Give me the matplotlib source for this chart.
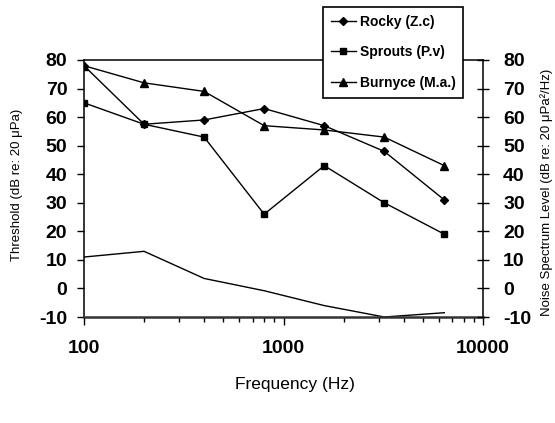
import matplotlib
matplotlib.use('Agg')
import matplotlib.pyplot as plt
from matplotlib.ticker import FixedLocator, NullFormatter, FixedFormatter

# ---- data ----
freq = [100, 200, 400, 800, 1600, 3200, 6400]
rocky = [78, 57.5, 59, 63, 57, 48, 31]
sprouts = [65, 57.5, 53, 26, 43, 30, 19]
burnyce = [78, 72, 69, 57, 55.5, 53, 43]
noise = [11, 13, 3.5, -0.8, -6, -10, -8.5]
series_labels = ['Rocky (Z.c)', 'Sprouts (P.v)', 'Burnyce (M.a.)']
yticks = [-10, 0, 10, 20, 30, 40, 50, 60, 70, 80]
xticks = [100, 1000, 10000]
xtick_labels = ['100', '1000', '10000']
minor_x = [200, 300, 400, 500, 600, 700, 800, 900,
           2000, 3000, 4000, 5000, 6000, 7000, 8000, 9000]

plt.rcParams['font.family'] = ['Liberation Sans', 'DejaVu Sans']
plt.rcParams['axes.unicode_minus'] = False

W, H = 555, 423
fig = plt.figure(figsize=(W / 100, H / 100), dpi=100)
L, R, T, B = 84, 483, 60, 317
ax = fig.add_axes([L / W, 1 - B / H, (R - L) / W, (B - T) / H])

ax.set_xscale('log')
ax.set_xlim(100, 10000)
ax.set_ylim(-10, 80)

lw = 1.0
ax.plot(freq, rocky, color='black', lw=lw, marker='D', ms=3.8, label=series_labels[0])
ax.plot(freq, sprouts, color='black', lw=lw, marker='s', ms=5, label=series_labels[1])
ax.plot(freq, burnyce, color='black', lw=lw, marker='^', ms=5.2, label=series_labels[2])
ax.plot(freq, noise, color='black', lw=lw)

# x axis ticks
ax.xaxis.set_major_locator(FixedLocator(xticks))
ax.xaxis.set_major_formatter(FixedFormatter(xtick_labels))
ax.xaxis.set_minor_locator(FixedLocator(minor_x))
ax.xaxis.set_minor_formatter(NullFormatter())
ax.tick_params(axis='x', which='major', direction='out', length=5.5, width=1,
               pad=11, labelsize=14)
ax.tick_params(axis='x', which='minor', direction='out', length=3.5, width=1)
for lab in ax.get_xticklabels():
    lab.set_fontweight('bold')

# left y axis
ax.set_yticks(yticks)
ax.tick_params(axis='y', which='major', direction='out', length=5, width=1,
               pad=7, labelsize=14)
for lab in ax.get_yticklabels():
    lab.set_fontweight('bold')

for side in ['left', 'top', 'right']:
    ax.spines[side].set_linewidth(1.1)
ax.spines['bottom'].set_linewidth(1.8)
ax.spines['bottom'].set_color('#333333')

# right y axis
ax2 = ax.twinx()
ax2.set_ylim(-10, 80)
ax2.set_yticks(yticks)
ax2.tick_params(axis='y', which='major', direction='inout', length=9, width=1,
                pad=10, labelsize=14)
for lab in ax2.get_yticklabels():
    lab.set_fontweight('bold')
for sp in ax2.spines.values():
    sp.set_visible(False)

# axis labels
fig.text(17.5 / W, 1 - 185 / H, 'Threshold (dB re: 20 \u03bcPa)', rotation=90,
         ha='center', va='center', fontsize=9.5)
fig.text(547 / W, 1 - 192 / H, 'Noise Spectrum Level (dB re: 20 \u03bcPa\u00b2/Hz)',
         rotation=90, ha='center', va='center', fontsize=9.5)
fig.text(295 / W, 1 - 384 / H, 'Frequency (Hz)', ha='center', va='center',
         fontsize=12.5)

# legend
leg = ax.legend(loc='upper left', bbox_to_anchor=(323 / W, 1 - 7 / H),
                bbox_transform=fig.transFigure, borderaxespad=0,
                frameon=True, fancybox=False, shadow=False,
                prop={'weight': 'bold', 'size': 10}, handlelength=1.8,
                handletextpad=0.3, labelspacing=1.2, borderpad=0.55,
                markerscale=1.0)
leg.get_frame().set_edgecolor('black')
leg.get_frame().set_linewidth(1.2)
leg.get_frame().set_alpha(1)
leg.set_zorder(10)

fig.savefig('out.png', dpi=100)
